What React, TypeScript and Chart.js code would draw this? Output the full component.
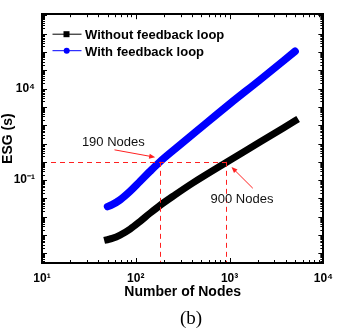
import React, { useEffect, useRef } from "react";
import { Chart, registerables } from "chart.js";

Chart.register(...registerables);

// ---- data ----
const nodesWithout = [50, 56, 68, 87, 111, 141, 180, 262, 407, 938, 2110, 5000];
const esgWithout = [5.7e-5, 6.6e-5, 1.0e-4, 2.14e-4, 5.6e-4, 1.54e-3, 4.1e-3, 0.0157, 0.071, 0.98, 12, 175];
const nodesWith = [50, 56, 68, 87, 111, 141, 180, 296, 483, 1000, 2110, 5000];
const esgWith = [3.6e-3, 4.6e-3, 8.4e-3, 0.0245, 0.086, 0.296, 0.99, 8.4, 67, 1440, 3.0e4, 1.09e6];
const seriesNames = ["Without feedback loop", "With feedback loop"];
const seriesColors = ["#000000", "#0000ff"];

const xTickValues = [10, 100, 1000, 10000];
const xTickText = ["10\u00b9", "10\u00b2", "10\u00b3", "10\u2074"];
const yTickValues = [0.1, 10000];
const yTickText = ["10\u207b\u00b9", "10\u2074"];

const markNodes = [182, 905];
const markLabels = ["190 Nodes", "900 Nodes"];
const markESG = 1;
const markLineEnd = 1000;

const FONT = "'Liberation Sans', Arial, sans-serif";

function labelFor(v: number, vals: number[], texts: string[]) {
  for (let i = 0; i < vals.length; i++) {
    if (Math.abs(Math.log10(v) - Math.log10(vals[i])) < 1e-6) return texts[i];
  }
  return "";
}

function isNice(v: number) {
  const e = Math.floor(Math.log10(v) + 1e-9);
  const m = v / Math.pow(10, e);
  return Math.abs(m - Math.round(m)) < 1e-6 ? Math.round(m) : 0;
}

function arrow(ctx: CanvasRenderingContext2D, x1: number, y1: number, x2: number, y2: number) {
  const ang = Math.atan2(y2 - y1, x2 - x1);
  const L = 6, W = 2.5;
  ctx.beginPath();
  ctx.moveTo(x1, y1);
  ctx.lineTo(x2 - Math.cos(ang) * L * 0.8, y2 - Math.sin(ang) * L * 0.8);
  ctx.stroke();
  ctx.beginPath();
  ctx.moveTo(x2, y2);
  ctx.lineTo(x2 - Math.cos(ang) * L - Math.sin(ang) * W, y2 - Math.sin(ang) * L + Math.cos(ang) * W);
  ctx.lineTo(x2 - Math.cos(ang) * L + Math.sin(ang) * W, y2 - Math.sin(ang) * L - Math.cos(ang) * W);
  ctx.closePath();
  ctx.fill();
}

const decorPlugin = {
  id: "decor",
  afterDatasetsDraw(chart: any) {
    const { ctx, chartArea: a, scales } = chart;
    const x = scales.x, y = scales.y;
    const yp = y.getPixelForValue(markESG);
    ctx.save();
    ctx.strokeStyle = "#ff2020";
    ctx.fillStyle = "#ff2020";
    ctx.lineWidth = 1;
    ctx.setLineDash([5, 4]);
    ctx.beginPath();
    ctx.moveTo(a.left, Math.round(yp) + 0.5);
    ctx.lineTo(x.getPixelForValue(markLineEnd), Math.round(yp) + 0.5);
    for (const n of markNodes) {
      const xp = Math.round(x.getPixelForValue(n)) + 0.5;
      ctx.moveTo(xp, yp);
      ctx.lineTo(xp, a.bottom);
    }
    ctx.stroke();
    ctx.setLineDash([]);
    const p0x = x.getPixelForValue(markNodes[0]);
    const p1x = x.getPixelForValue(markNodes[1]);
    arrow(ctx, p0x - 45.7, yp - 12, p0x - 5, yp - 4.6);
    arrow(ctx, p1x + 27.3, yp + 26.4, p1x + 6, yp + 5.2);
    ctx.fillStyle = "#111";
    ctx.font = `13px ${FONT}`;
    ctx.textAlign = "left";
    ctx.textBaseline = "alphabetic";
    ctx.fillText(markLabels[0], p0x - 78.3, yp - 16.3);
    ctx.fillText(markLabels[1], p1x - 15, yp + 40.7);
    ctx.restore();
  },
  afterDraw(chart: any) {
    const { ctx, chartArea: a, scales } = chart;
    const x = scales.x, y = scales.y;
    ctx.save();
    ctx.strokeStyle = "#000";
    ctx.lineWidth = 1;
    ctx.beginPath();
    for (const t of x.ticks) {
      const m = isNice(t.value);
      if (!m) continue;
      const px = Math.round(x.getPixelForValue(t.value)) + 0.5;
      if (px <= a.left + 1 || px >= a.right - 1) continue;
      const len = m === 1 ? 5 : 3;
      ctx.moveTo(px, a.bottom);
      ctx.lineTo(px, a.bottom - len);
      ctx.moveTo(px, a.top);
      ctx.lineTo(px, a.top + len);
    }
    for (const t of y.ticks) {
      const m = isNice(t.value);
      if (!m) continue;
      const py = Math.round(y.getPixelForValue(t.value)) + 0.5;
      if (py <= a.top + 1 || py >= a.bottom - 1) continue;
      const len = m === 1 ? 5 : 3;
      ctx.moveTo(a.left, py);
      ctx.lineTo(a.left + len, py);
      ctx.moveTo(a.right, py);
      ctx.lineTo(a.right - len, py);
    }
    ctx.stroke();
    ctx.lineWidth = 2;
    ctx.strokeRect(Math.round(a.left), Math.round(a.top), Math.round(a.right) - Math.round(a.left), Math.round(a.bottom) - Math.round(a.top));

    // legend
    const rows = [a.top + 20, a.top + 36.5];
    for (let i = 0; i < 2; i++) {
      const ly = rows[i];
      ctx.strokeStyle = seriesColors[i];
      ctx.fillStyle = seriesColors[i];
      ctx.lineWidth = 1;
      ctx.beginPath();
      ctx.moveTo(52.5, ly);
      ctx.lineTo(81.5, ly);
      ctx.stroke();
      if (i === 0) {
        ctx.fillRect(63.5, ly - 3, 6, 6);
      } else {
        ctx.beginPath();
        ctx.arc(66.7, ly, 3, 0, Math.PI * 2);
        ctx.fill();
      }
      ctx.fillStyle = "#000";
      ctx.font = `bold 13px ${FONT}`;
      ctx.textAlign = "left";
      ctx.textBaseline = "alphabetic";
      ctx.fillText(seriesNames[i], 85, ly + 5);
    }
    ctx.fillStyle = "#000";
    ctx.font = `19px 'Liberation Serif', 'Times New Roman', serif`;
    ctx.textAlign = "center";
    ctx.fillText("(b)", 191, 324);
    ctx.restore();
  },
};

export default function App() {
  const ref = useRef<HTMLCanvasElement | null>(null);
  useEffect(() => {
    if (!ref.current) return;
    const tickFont = { family: FONT, size: 12, weight: "bold" as const };
    const chart = new Chart(ref.current, {
      type: "line",
      data: {
        datasets: [
          {
            label: seriesNames[0],
            data: nodesWithout.map((n, i) => ({ x: n, y: esgWithout[i] })),
            borderColor: seriesColors[0],
            backgroundColor: seriesColors[0],
            borderWidth: 7,
            borderCapStyle: "square",
            borderJoinStyle: "round",
            pointRadius: 0,
            cubicInterpolationMode: "monotone",
          },
          {
            label: seriesNames[1],
            data: nodesWith.map((n, i) => ({ x: n, y: esgWith[i] })),
            borderColor: seriesColors[1],
            backgroundColor: seriesColors[1],
            borderWidth: 7.5,
            borderCapStyle: "round",
            borderJoinStyle: "round",
            pointRadius: 0,
            cubicInterpolationMode: "monotone",
          },
        ],
      },
      options: {
        responsive: false,
        animation: false,
        devicePixelRatio: 1,
        layout: { padding: { top: 10, right: 17.5, bottom: 0, left: 0 } },
        plugins: { legend: { display: false }, tooltip: { enabled: false }, title: { display: false } },
        scales: {
          x: {
            type: "logarithmic",
            min: 10,
            max: 10000,
            afterFit: (s: any) => { s.height = 70; },
            grid: { display: false, drawTicks: false },
            border: { display: false },
            ticks: {
              autoSkip: false,
              maxRotation: 0,
              padding: 8,
              color: "#000",
              font: tickFont,
              callback: (v: any) => labelFor(Number(v), xTickValues, xTickText),
            },
            title: {
              display: true,
              text: "Number of Nodes",
              color: "#000",
              font: { family: FONT, size: 14, weight: "bold" },
              padding: { top: 0, bottom: 32 },
            },
          },
          y: {
            type: "logarithmic",
            min: 3e-6,
            max: 1.15e8,
            afterFit: (s: any) => { s.width = 42; },
            grid: { display: false, drawTicks: false },
            border: { display: false },
            ticks: {
              autoSkip: false,
              padding: 7,
              color: "#000",
              font: tickFont,
              callback: (v: any) => labelFor(Number(v), yTickValues, yTickText),
            },
            title: {
              display: true,
              text: "ESG (s)",
              color: "#000",
              font: { family: FONT, size: 14, weight: "bold" },
              padding: { top: 0, bottom: 0 },
            },
          },
        },
      },
      plugins: [decorPlugin],
    } as any);
    return () => chart.destroy();
  }, []);
  return (
    <div style={{ position: "fixed", left: 0, top: 0, width: 341, height: 333, background: "#fff" }}>
      <canvas ref={ref} width={341} height={333} style={{ width: 341, height: 333 }} />
    </div>
  );
}
